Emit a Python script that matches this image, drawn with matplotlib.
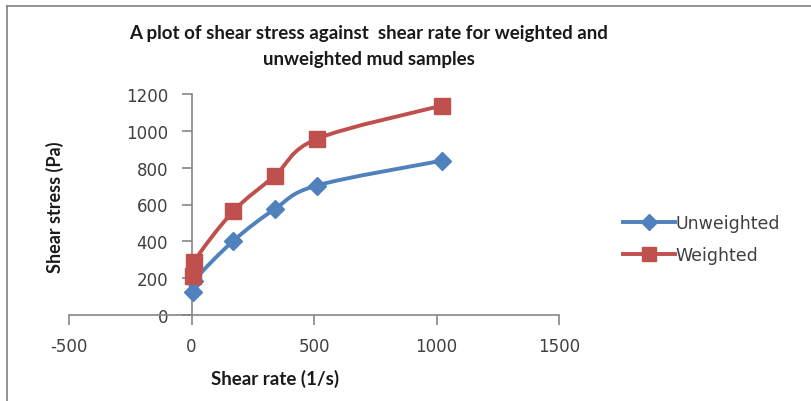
import matplotlib.pyplot as plt
import numpy as np
from matplotlib.path import Path
from matplotlib.patches import PathPatch
from matplotlib.lines import Line2D

# data
shear_rate = [5.11, 10.22, 170.3, 340.6, 510.9, 1021.8]
unweighted = [125, 185, 402, 576, 703, 838]
weighted = [214, 290, 563, 757, 956, 1137]

blue = '#4F81BD'
red = '#C0504D'
axis_col = '#868686'
txt_col = '#404040'

plt.rcParams['font.family'] = ['DejaVu Sans']
plt.rcParams['axes.unicode_minus'] = False


def smooth_path(x, y):
    # Excel style smoothed line: Catmull-Rom segments as cubic beziers
    pts = np.column_stack([x, y]).astype(float)
    verts = [pts[0]]
    codes = [Path.MOVETO]
    n = len(pts)
    for i in range(n - 1):
        p0 = pts[i - 1] if i > 0 else pts[i]
        p1 = pts[i]
        p2 = pts[i + 1]
        p3 = pts[i + 2] if i + 2 < n else pts[i + 1]
        c1 = p1 + (p2 - p0) / 6.0
        c2 = p2 - (p3 - p1) / 6.0
        verts += [c1, c2, p2]
        codes += [Path.CURVE4] * 3
    return Path(verts, codes)


fig = plt.figure(figsize=(8.11, 4.02), dpi=100)
ax = fig.add_axes([69 / 811, 1 - 316 / 402, 490 / 811, 221 / 402])

for ys, col, mk, ms, lab in [(unweighted, blue, 'D', 9, 'Unweighted'),
                             (weighted, red, 's', 11, 'Weighted')]:
    ax.add_patch(PathPatch(smooth_path(shear_rate, ys), facecolor='none',
                           edgecolor=col, lw=2.8, zorder=3))
    ax.plot(shear_rate, ys, linestyle='none', marker=mk, ms=ms, color=col,
            zorder=4, label=lab)

ax.set_xlim(-500, 1500)
ax.set_ylim(0, 1200)
ax.set_xticks([-500, 0, 500, 1000, 1500])
ax.set_yticks(np.arange(0, 1201, 200))
ax.spines['left'].set_position(('data', 0))
ax.spines['bottom'].set_position(('data', 0))
ax.spines['top'].set_visible(False)
ax.spines['right'].set_visible(False)
for s in ['left', 'bottom']:
    ax.spines[s].set_color(axis_col)
    ax.spines[s].set_linewidth(1.2)
ax.tick_params(axis='both', colors=axis_col, labelcolor=txt_col,
               labelsize=12, length=7, width=1.2)
ax.tick_params(axis='y', pad=10)
ax.tick_params(axis='x', pad=9)
ax.patch.set_visible(False)

bold = dict(fontweight='bold', color='#1a1a1a', family=['Lato', 'DejaVu Sans'])
fig.text(369 / 811, 1 - 33 / 402,
         'A plot of shear stress against  shear rate for weighted and',
         ha='center', va='center', fontsize=13.5, **bold)
fig.text(369 / 811, 1 - 60 / 402, 'unweighted mud samples',
         ha='center', va='center', fontsize=13.5, **bold)
fig.text(55 / 811, 1 - 207 / 402, 'Shear stress (Pa)', rotation=90,
         ha='center', va='center', fontsize=13, **bold)
fig.text(275 / 811, 1 - 379 / 402, 'Shear rate (1/s)',
         ha='center', va='center', fontsize=13.5, **bold)

handles = [Line2D([], [], color=blue, lw=2.8, marker='D', ms=8),
           Line2D([], [], color=red, lw=2.8, marker='s', ms=10)]
fig.legend(handles, ['Unweighted', 'Weighted'], loc='center left',
           bbox_to_anchor=(607 / 811, 1 - 240 / 402), frameon=False,
           fontsize=12.5, handlelength=3.0, handletextpad=0.05,
           labelspacing=0.85, labelcolor=txt_col)

# outer chart border (top and left only visible)
fig.add_artist(Line2D([7 / 811, 1], [1 - 7 / 402, 1 - 7 / 402],
                      transform=fig.transFigure, color='#7f7f7f', lw=1.2))
fig.add_artist(Line2D([7 / 811, 7 / 811], [0, 1 - 7 / 402],
                      transform=fig.transFigure, color='#7f7f7f', lw=1.2))

fig.savefig('out.png', dpi=100)
